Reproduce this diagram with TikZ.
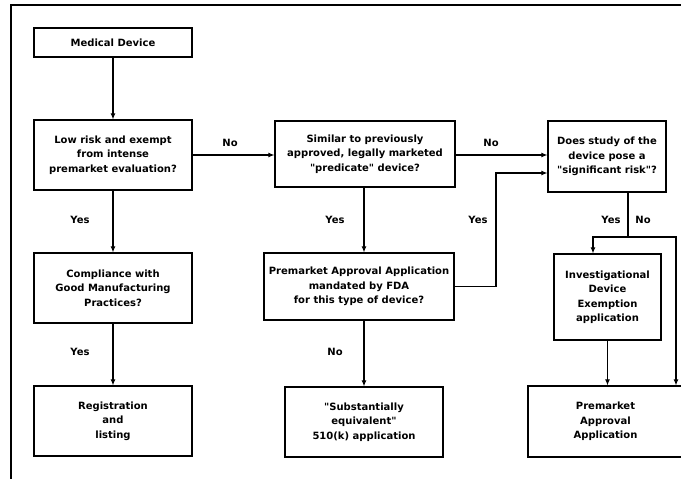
\documentclass[tikz,border=0pt]{standalone}
\usepackage{fontspec}
\setmainfont{DejaVu Sans}
\usetikzlibrary{arrows.meta}
\begin{document}
\begin{tikzpicture}[x=1pt,y=-1pt,
  box/.style={draw, line width=1.2pt, inner sep=0pt, align=center,
    font=\fontsize{10}{14.5}\selectfont\bfseries},
  lbl/.style={font=\fontsize{10}{12}\selectfont\bfseries, inner sep=0pt},
  conn/.style={line width=1.1pt},
  arr/.style={conn, -{Latex[length=6pt,width=5pt]}}]
\useasboundingbox (0,0) rectangle (681,479);
\fill[white] (0,0) rectangle (681,479);
\draw[line width=2pt] (11,495) -- (11,5) -- (700,5);
% boxes
\node[box, minimum width=158pt, minimum height=29pt] (med) at (113,42.5) {Medical Device};
\node[box, minimum width=158pt, minimum height=70pt] (low) at (113,155) {Low risk and exempt\\from intense\\premarket evaluation?};
\node[box, minimum width=180pt, minimum height=66pt] (sim) at (365,154) {Similar to previously\\approved, legally marketed\\\textquotedbl predicate\textquotedbl{} device?};
\node[box, minimum width=118pt, minimum height=71pt] (sig) at (607,156.5) {Does study of the\\device pose a\\\textquotedbl significant risk\textquotedbl ?};
\node[box, minimum width=158pt, minimum height=70pt] (gmp) at (113,288) {Compliance with\\Good Manufacturing\\Practices?};
\node[box, minimum width=190pt, minimum height=67pt] (pma1) at (359,286.5) {Premarket Approval Application\\mandated by FDA\\for this type of device?};
\node[box, minimum width=107pt, minimum height=86pt] (ide) at (607.5,297) {Investigational\\Device\\Exemption\\application};
\node[box, minimum width=158pt, minimum height=70pt] (reg) at (113,421) {Registration\\and\\listing};
\node[box, minimum width=158pt, minimum height=70pt] (sub) at (364,422) {\textquotedbl Substantially\\equivalent\textquotedbl\\510(k) application};
\node[box, minimum width=155pt, minimum height=71pt] (pma2) at (605.5,421.5) {Premarket\\Approval\\Application};
% helper coordinates
\coordinate (yk) at (496,173);
\coordinate (split) at (628,237);
\coordinate (jl) at (593,237);
\coordinate (jr) at (676,237);
% connectors
\draw[arr] (med) -- (low);
\draw[arr] (low) -- (gmp);
\draw[arr] (gmp) -- (reg);
\draw[arr] (low.east) -- (sim.west |- low.east);
\draw[arr] (sim.east |- low.east) -- (sig.west |- low.east);
\draw[arr] (sim.south -| sub.north) -- (pma1.north -| sub.north);
\draw[arr] (pma1.south -| sub.north) -- (sub.north);
\draw[arr] (pma1.east) -| (yk) -- (sig.west |- yk);
\draw[conn] (sig.south -| split) -- (split);
\draw[arr] (split) -- (jl) -- (ide.north -| jl);
\draw[arr] (split) -- (jr) -- (pma2.north -| jr);
\draw[arr] (ide.south) -- (pma2.north -| ide.south);
% labels
\node[lbl] (no1) at (230,143) {No};
\node[lbl] (no2) at (491,143) {No};
\node[lbl] (yes1) at (80,220) {Yes};
\node[lbl] (yes2) at (335,220) {Yes};
\node[lbl] (yes3) at (478,220) {Yes};
\node[lbl] (yes4) at (611,220) {Yes};
\node[lbl] (no3) at (643,220) {No};
\node[lbl] (yes5) at (80,352) {Yes};
\node[lbl] (no4) at (335,352) {No};
\end{tikzpicture}
\end{document}
